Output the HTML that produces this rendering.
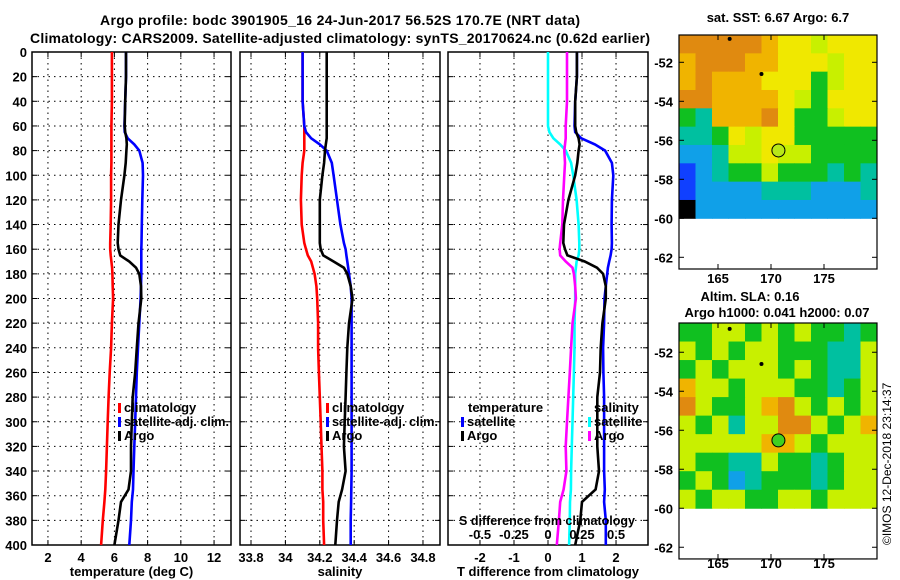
<!DOCTYPE html>
<html><head><meta charset="utf-8"><style>
body{margin:0;background:#fff}
svg{display:block;font-family:"Liberation Sans",sans-serif;font-weight:bold}
</style></head><body>
<svg id="s" width="900" height="580" viewBox="0 0 900 580">
<text x="340" y="25" font-size="14" text-anchor="middle" textLength="480">Argo profile: bodc 3901905_16 24-Jun-2017 56.52S 170.7E (NRT data)</text>
<text x="340" y="43" font-size="14" text-anchor="middle" textLength="620">Climatology: CARS2009. Satellite-adjusted climatology: synTS_20170624.nc (0.62d earlier)</text>
<g id="p1"></g>
<g id="p2"></g>
<g id="p3"></g>
<g id="m1"></g>
<g id="m2"></g>
<text x="778" y="22" font-size="13" text-anchor="middle">sat. SST: 6.67 Argo: 6.7</text>
<text x="750" y="301" font-size="13" text-anchor="middle">Altim. SLA: 0.16</text>
<text x="777" y="317" font-size="13" text-anchor="middle">Argo h1000: 0.041 h2000: 0.07</text>
<text transform="translate(891,545) rotate(-90)" font-size="12" font-weight="normal">©IMOS 12-Dec-2018 23:14:37</text>
</svg>
<script>
const depths=[0,20,40,60,65,70,75,80,90,100,120,140,155,160,165,170,175,180,190,200,220,240,260,280,300,320,340,355,365,380,400];
const tClim=[5.85,5.85,5.85,5.82,5.82,5.82,5.82,5.82,5.82,5.8,5.8,5.78,5.75,5.75,5.78,5.82,5.86,5.88,5.9,5.92,5.85,5.8,5.72,5.65,5.6,5.55,5.5,5.45,5.4,5.3,5.2];
const tSat=[6.7,6.7,6.65,6.6,6.62,6.8,7.2,7.5,7.7,7.72,7.68,7.65,7.63,7.62,7.62,7.62,7.62,7.62,7.6,7.58,7.5,7.42,7.35,7.3,7.25,7.2,7.15,7.12,7.05,7.0,6.9];
const tArgo=[6.7,6.7,6.65,6.62,6.65,6.72,6.75,6.72,6.68,6.6,6.4,6.25,6.2,6.25,6.35,6.9,7.3,7.5,7.6,7.62,7.45,7.35,7.25,7.1,7.05,7.0,7.0,6.85,6.4,6.25,6.0];
const sClim=[34.10,34.10,34.10,34.11,34.11,34.11,34.11,34.11,34.10,34.095,34.09,34.095,34.11,34.12,34.13,34.15,34.16,34.17,34.18,34.185,34.19,34.19,34.195,34.2,34.205,34.21,34.215,34.215,34.22,34.22,34.225];
const sSat=[34.1,34.1,34.1,34.11,34.12,34.15,34.2,34.24,34.27,34.28,34.3,34.32,34.34,34.35,34.355,34.36,34.365,34.37,34.38,34.385,34.385,34.385,34.385,34.385,34.385,34.385,34.385,34.383,34.382,34.38,34.38];
const sArgo=[34.24,34.24,34.24,34.24,34.24,34.24,34.235,34.23,34.225,34.215,34.2,34.2,34.2,34.205,34.22,34.28,34.34,34.36,34.38,34.39,34.37,34.36,34.355,34.35,34.345,34.34,34.35,34.33,34.31,34.3,34.29];
const yTicks=[0,20,40,60,80,100,120,140,160,180,200,220,240,260,280,300,320,340,360,380,400];
const t1Ticks=[2,4,6,8,10,12];
const s2Ticks=[33.8,34,34.2,34.4,34.6,34.8];
const s2Labels=["33.8","34","34.2","34.4","34.6","34.8"];
const t3Ticks=[-2,-1,0,1,2];
const s3Ticks=[-0.5,-0.25,0,0.25,0.5];
const lonTicks=[165,170,175];
const latTicks=[-52,-54,-56,-58,-60,-62];
const map1Rows=["OOOOOoYYyYYY","oOOOooYYYyYY","oOoooYYYGyYY","OOooooYyGYYY","GToooOYGGyYY","TTGYyYYGGGGG","CCTyyYyyGGGG","BCTGGyGGGTGT","BCCCCTTTCCCT","KCCCCCCCCCCC"];
const map2Rows=["GGyyGyGyGGTG","yGyGyyGGGTTy","GyGyyyGyGTTy","oyyGyyyGGTGy","OyGGyoOyGyGy","yGyTyyOOyGyo","yyyyyooyGyyy","yGGTTyGGTGyy","GyGCTGGGTGyy","yGyyGGyyGyyy"];
const NS="http://www.w3.org/2000/svg";
function mk(p,tag,a){const e=document.createElementNS(NS,tag);for(const k in a)e.setAttribute(k,a[k]);p.appendChild(e);return e;}
const Y0=52,Y1=545;
const yS=d=>Y0+(d/400)*(Y1-Y0);
function panel(g,x0,x1,d0,d1,xt,xl,title,leftLabels){
  const xS=v=>x0+(v-d0)/(d1-d0)*(x1-x0);
  xt.forEach((v,i)=>{const x=xS(v);
    const l=mk(g,'line',{x1:x,x2:x,y1:Y0,y2:Y1,stroke:'#000','stroke-dasharray':'1.5,4'});
    
    mk(g,'line',{x1:x,x2:x,y1:Y1,y2:Y1-5,stroke:'#000'});mk(g,'line',{x1:x,x2:x,y1:Y0,y2:Y0+5,stroke:'#000'});
    if(xl){const t=mk(g,'text',{x:x,y:562,'font-size':13,'text-anchor':'middle'});t.textContent=xl[i];
      }
  });
  yTicks.forEach(d=>{const y=yS(d);
    if(d>0&&d<400){const l=mk(g,'line',{x1:x0,x2:x1,y1:y,y2:y,stroke:'#000','stroke-dasharray':'1.5,4'});
      }
    mk(g,'line',{x1:x0,x2:x0+5,y1:y,y2:y,stroke:'#000'});mk(g,'line',{x1:x1-5,x2:x1,y1:y,y2:y,stroke:'#000'});
    if(leftLabels){const t=mk(g,'text',{x:27,y:y+5,'font-size':13,'text-anchor':'end'});t.textContent=d;
      }
  });
  const r=mk(g,'rect',{x:x0,y:Y0,width:x1-x0,height:Y1-Y0,fill:'none',stroke:'#000','stroke-width':1.5});
  
  if(title){const t=mk(g,'text',{x:(x0+x1)/2,y:576,'font-size':13,'text-anchor':'middle'});t.textContent=title;
    }
  return xS;
}
function series(g,xS,vals,col,name){
  const pts=vals.map((v,i)=>xS(v).toFixed(1)+','+yS(depths[i]).toFixed(1)).join(' ');
  const p=mk(g,'polyline',{points:pts,fill:'none',stroke:col,'stroke-width':2.6});
  
}
function legend(g,x,y,col,label,len){
  mk(g,'rect',{x:x,y:y-9,width:3,height:10,fill:col});
  const a={x:x+6,y:y,'font-size':13};if(len){a.textLength=len;a.lengthAdjust='spacingAndGlyphs';}
  const t=mk(g,'text',a);t.textContent=label;
  
}
const g1=document.getElementById('p1'),g2=document.getElementById('p2'),g3=document.getElementById('p3');
const x1=panel(g1,32,231,1.04,13.02,t1Ticks,t1Ticks.map(String),'temperature (deg C)',true);
series(g1,x1,tClim,'#f00','temp-climatology-line');series(g1,x1,tSat,'#00f','temp-satellite-line');series(g1,x1,tArgo,'#000','temp-argo-line');
legend(g1,118,412,'#f00','climatology');legend(g1,118,426,'#00f','satellite-adj. clim.',105);legend(g1,118,440,'#000','Argo');
const x2=panel(g2,240,440,33.736,34.899,s2Ticks,s2Labels,'salinity',false);
series(g2,x2,sClim,'#f00','sal-climatology-line');series(g2,x2,sSat,'#00f','sal-satellite-line');series(g2,x2,sArgo,'#000','sal-argo-line');
legend(g2,326,412,'#f00','climatology');legend(g2,326,426,'#00f','satellite-adj. clim.',106);legend(g2,326,440,'#000','Argo');
const x3=panel(g3,448,648,-2.94,2.94,t3Ticks,t3Ticks.map(String),'T difference from climatology',false);
const xs3=v=>x3(v*4);
series(g3,xs3,sSat.map((v,i)=>v-sClim[i]),'#0ff','sdiff-satellite-line');
series(g3,xs3,sArgo.map((v,i)=>v-sClim[i]),'#f0f','sdiff-argo-line');
series(g3,x3,tSat.map((v,i)=>v-tClim[i]),'#00f','tdiff-satellite-line');
series(g3,x3,tArgo.map((v,i)=>v-tClim[i]),'#000','tdiff-argo-line');
{const t=mk(g3,'text',{x:468,y:412,'font-size':13});t.textContent='temperature';
const u=mk(g3,'text',{x:594,y:412,'font-size':13});u.textContent='salinity';}
legend(g3,461,426,'#00f','satellite');legend(g3,461,440,'#000','Argo');
legend(g3,588,426,'#0ff','satellite');legend(g3,588,440,'#f0f','Argo');
{const t=mk(g3,'text',{x:459,y:525,'font-size':13,textLength:176,lengthAdjust:'spacingAndGlyphs'});t.textContent='S difference from climatology';}
s3Ticks.forEach(v=>{const t=mk(g3,'text',{x:xs3(v),y:539,'font-size':13,'text-anchor':'middle'});t.textContent=String(v);
  });
const COL={O:'#e08a10',o:'#f0b400',Y:'#f0e800',y:'#c8f000',G:'#10c020',g:'#40d020',T:'#00c0a0',C:'#10a0e8',B:'#1040ff',K:'#000'};
function map(g,top,latTop,rows,dots,circ,lonY){
  const L=679,R=877,ppd=19.5,yL=lat=>top+(latTop-lat)*ppd,xL=lon=>718+(lon-165)*10.6;
  const bot=yL(-60),cw=(R-L)/rows[0].length,ch=(bot-top)/rows.length;
  rows.forEach((row,j)=>[...row].forEach((c,i)=>{const r=mk(g,'rect',{x:L+i*cw,y:top+j*ch,width:cw+0.5,height:ch+0.5,fill:COL[c]});
    }));
  const frameBot=yL(-62.6);
  mk(g,'rect',{x:L,y:top,width:R-L,height:frameBot-top,fill:'none',stroke:'#000','stroke-width':1.2});
  latTicks.forEach(v=>{const y=yL(v);mk(g,'line',{x1:L,x2:L+5,y1:y,y2:y,stroke:'#000'});mk(g,'line',{x1:R-5,x2:R,y1:y,y2:y,stroke:'#000'});
    const t=mk(g,'text',{x:673,y:y+5,'font-size':13,'text-anchor':'end'});t.textContent=v;});
  lonTicks.forEach(v=>{const x=xL(v);mk(g,'line',{x1:x,x2:x,y1:frameBot,y2:frameBot-5,stroke:'#000'});mk(g,'line',{x1:x,x2:x,y1:top,y2:top+5,stroke:'#000'});
    const t=mk(g,'text',{x:x,y:lonY,'font-size':13,'text-anchor':'middle'});t.textContent=v;});
  dots.forEach(d=>{const c=mk(g,'circle',{cx:xL(d[0]),cy:yL(d[1]),r:2,fill:'#000'});});
  const c=mk(g,'circle',{cx:xL(170.7),cy:yL(-56.52),r:6.5,fill:circ,stroke:'#000'});
  
}
map(document.getElementById('m1'),35,-50.6,map1Rows,[[166.1,-50.8],[169.1,-52.6]],'#b8e818',283);
map(document.getElementById('m2'),323,-50.5,map2Rows,[[166.1,-50.8],[169.1,-52.6]],'#40d020',568);
</script>
</body></html>
